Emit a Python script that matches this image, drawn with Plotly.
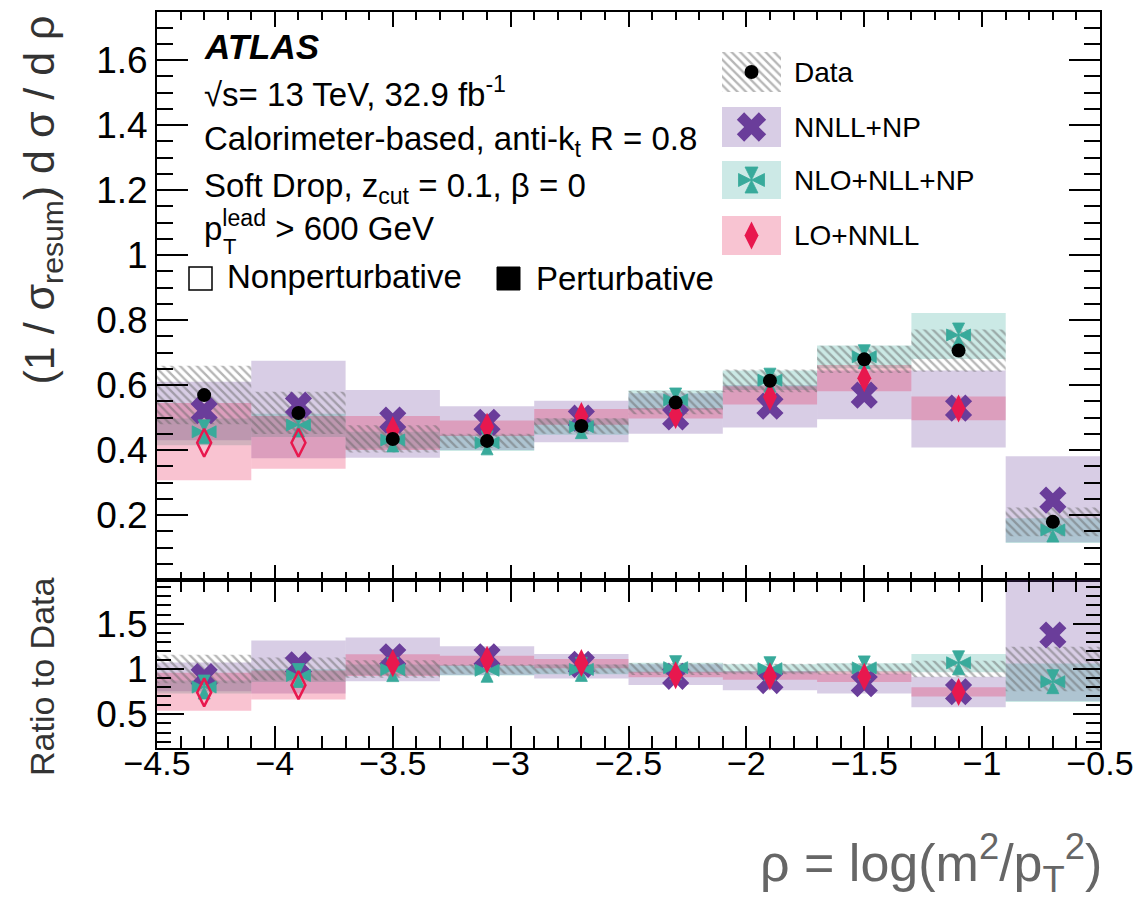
import plotly.graph_objects as go

# ---------------- data ----------------
bin_edges = [-4.5, -4.1, -3.7, -3.3, -2.9, -2.5, -2.1, -1.7, -1.3, -0.9, -0.5]

data_val = [0.569, 0.514, 0.434, 0.428, 0.474, 0.546, 0.613, 0.679, 0.706, 0.179]
data_err = [0.090, 0.065, 0.042, 0.022, 0.024, 0.036, 0.035, 0.042, 0.065, 0.044]

nnll_val = [0.521, 0.538, 0.492, 0.485, 0.498, 0.502, 0.535, 0.569, 0.529, 0.246]
nnll_lo = [0.430, 0.375, 0.376, 0.400, 0.424, 0.450, 0.469, 0.495, 0.408, 0.116]
nnll_hi = [0.610, 0.675, 0.585, 0.535, 0.552, 0.575, 0.600, 0.645, 0.645, 0.381]

nlo_val = [0.456, 0.477, 0.431, 0.422, 0.472, 0.554, 0.615, 0.687, 0.754, 0.154]
nlo_lo = [0.415, 0.440, 0.405, 0.397, 0.447, 0.524, 0.585, 0.652, 0.680, 0.114]
nlo_hi = [0.497, 0.512, 0.456, 0.447, 0.497, 0.584, 0.645, 0.722, 0.822, 0.190]

lonnll_val = [0.4225, 0.4225, 0.462, 0.472, 0.505, 0.508, 0.564, 0.621, 0.528, None]
lonnll_lo = [0.307, 0.342, 0.400, 0.443, 0.478, 0.497, 0.540, 0.581, 0.492, None]
lonnll_hi = [0.545, 0.505, 0.505, 0.491, 0.526, 0.529, 0.596, 0.662, 0.565, None]
lonnll_perturbative = [False, False, True, True, True, True, True, True, True, True]

x_tick_vals = [-4.5, -4.0, -3.5, -3.0, -2.5, -2.0, -1.5, -1.0, -0.5]
y_tick_vals = [0.2, 0.4, 0.6, 0.8, 1.0, 1.2, 1.4, 1.6]
r_tick_vals = [0.5, 1.0, 1.5]

legend_labels = ["Data", "NNLL+NP", "NLO+NLL+NP", "LO+NNLL"]

# ---------------- derived ----------------
centers = [(a + b) / 2 for a, b in zip(bin_edges[:-1], bin_edges[1:])]
widths = [b - a for a, b in zip(bin_edges[:-1], bin_edges[1:])]

# ---------------- geometry / style ----------------
W, H = 1136, 902
L, R, T, B = 157, 1100, 12, 748
SPLIT = 580
PW, PH = R - L, B - T


def px(x):
    return (x - L) / PW


def py(y):
    return (B - y) / PH


split_paper = py(SPLIT)

PURPLE = "rgb(106,61,154)"
TEAL = "rgb(56,170,155)"
RED = "rgb(232,24,78)"
PURPLE_BAND = "rgba(106,61,154,0.26)"
TEAL_BAND = "rgba(56,170,155,0.26)"
RED_BAND = "rgba(232,24,78,0.26)"
HATCH = dict(shape="\\", fgcolor="rgba(100,100,100,0.95)", bgcolor="rgba(0,0,0,0)",
             size=6, solidity=0.38, fillmode="overlay")
FONT = "Liberation Sans, Arial, sans-serif"
# Maltese-cross marker built from four arrow heads meeting at the point
CROSS_SYMBOLS = ["arrow-up", "arrow-down", "arrow-left", "arrow-right"]

fig = go.Figure()


def band(lo, hi, color, xa, ya, scale=None, pattern=None):
    xs, bs, hs, ws = [], [], [], []
    for i, (l, h) in enumerate(zip(lo, hi)):
        if l is None or h is None:
            continue
        s = scale[i] if scale else 1.0
        xs.append(centers[i])
        bs.append(l / s)
        hs.append((h - l) / s)
        ws.append(widths[i])
    marker = dict(color=color, line=dict(width=0))
    if pattern:
        marker["pattern"] = pattern
    fig.add_trace(go.Bar(x=xs, y=hs, base=bs, width=ws, marker=marker,
                         xaxis=xa, yaxis=ya, showlegend=False, hoverinfo="skip"))


def sel(vals, scale=None, mask=None):
    xs, ys = [], []
    for i, v in enumerate(vals):
        if v is None:
            continue
        if mask is not None and not mask[i]:
            continue
        s = scale[i] if scale else 1.0
        xs.append(centers[i])
        ys.append(v / s)
    return xs, ys


def points(vals, xa, ya, scale=None, mask=None, **mk):
    xs, ys = sel(vals, scale, mask)
    fig.add_trace(go.Scatter(x=xs, y=ys, mode="markers", marker=mk, xaxis=xa, yaxis=ya,
                             showlegend=False, hoverinfo="skip", cliponaxis=False))


def crosses(vals, xa, ya, scale=None, size=12):
    for sym in CROSS_SYMBOLS:
        points(vals, xa, ya, scale, symbol=sym, size=size, color=TEAL,
               line=dict(width=0.8, color=TEAL))


data_lo = [v - e for v, e in zip(data_val, data_err)]
data_hi = [v + e for v, e in zip(data_val, data_err)]

for (xa, ya, sc) in [("x", "y", None), ("x2", "y2", data_val)]:
    band(nnll_lo, nnll_hi, PURPLE_BAND, xa, ya, sc)
    band(nlo_lo, nlo_hi, TEAL_BAND, xa, ya, sc)
    band(lonnll_lo, lonnll_hi, RED_BAND, xa, ya, sc)
    band(data_lo, data_hi, "rgba(0,0,0,0)", xa, ya, sc, pattern=HATCH)
    points(nnll_val, xa, ya, sc, symbol="x", size=24, color=PURPLE, line=dict(width=0))
    crosses(nlo_val, xa, ya, sc)
    points(lonnll_val, xa, ya, sc, mask=lonnll_perturbative, symbol="diamond-tall", size=20,
           color=RED, line=dict(width=0))
    points(lonnll_val, xa, ya, sc, mask=[not p for p in lonnll_perturbative],
           symbol="diamond-tall-open", size=20, color=RED, line=dict(width=2.5, color=RED))
    if sc is None:
        points(data_val, xa, ya, sc, symbol="circle", size=14, color="black", line=dict(width=0))

# ---------------- legend (pixel overlay axes) ----------------
leg_x0, leg_x1 = 722, 781
leg_rows = [(52, 92), (107, 147), (161, 199), (216, 255)]
leg_fill = ["rgba(0,0,0,0)", "rgb(216,205,229)", "rgb(204,233,230)", "rgb(248,196,210)"]
for i, (y0, y1) in enumerate(leg_rows):
    mk = dict(color=leg_fill[i], line=dict(width=0))
    if i == 0:
        mk["pattern"] = HATCH
    fig.add_trace(go.Bar(x=[(leg_x0 + leg_x1) / 2], y=[y1 - y0], base=[y0], width=[leg_x1 - leg_x0],
                         marker=mk, xaxis="x3", yaxis="y3", showlegend=False, hoverinfo="skip"))
leg_cx = (leg_x0 + leg_x1) / 2
leg_cy = [(a + b) / 2 for a, b in leg_rows]
leg_markers = [
    [dict(symbol="circle", size=14, color="black", line=dict(width=0))],
    [dict(symbol="x", size=26, color=PURPLE, line=dict(width=0))],
    [dict(symbol=s, size=13, color=TEAL, line=dict(width=0.8, color=TEAL)) for s in CROSS_SYMBOLS],
    [dict(symbol="diamond-tall", size=20, color=RED, line=dict(width=0))],
]
for cy, mks in zip(leg_cy, leg_markers):
    for mk in mks:
        fig.add_trace(go.Scatter(x=[leg_cx], y=[cy], mode="markers", marker=mk, xaxis="x3", yaxis="y3",
                                 showlegend=False, hoverinfo="skip", cliponaxis=False))

annotations = []
for lab, cy in zip(legend_labels, leg_cy):
    annotations.append(dict(x=px(792), y=py(cy), xref="paper", yref="paper", text=lab, showarrow=False,
                            xanchor="left", yanchor="middle", font=dict(size=28, color="black", family=FONT)))

# ---------------- text block ----------------
TX = 202
text_lines = [
    ("<b><i>ATLAS</i></b>", 46, 35),
    ("√s= 13 TeV, 32.9 fb<sup>-1</sup>", 92, 33),
    ("Calorimeter-based, anti-k<sub>t</sub> R = 0.8", 141, 33),
    ("Soft Drop, z<sub>cut</sub> = 0.1, β = 0", 188, 33),
    ("p<sup>lead</sup> > 600 GeV", 226, 33),
]
for txt, cy, fs in text_lines:
    annotations.append(dict(x=px(TX), y=py(cy), xref="paper", yref="paper", text=txt, showarrow=False,
                            xanchor="left", yanchor="middle", font=dict(size=fs, color="black", family=FONT)))
annotations.append(dict(x=px(TX + 19), y=py(247), xref="paper", yref="paper", text="T", showarrow=False,
                        xanchor="left", yanchor="middle", font=dict(size=22, color="black", family=FONT)))
annotations.append(dict(x=px(225), y=py(276), xref="paper", yref="paper", text="Nonperturbative",
                        showarrow=False, xanchor="left", yanchor="middle",
                        font=dict(size=33, color="black", family=FONT)))
annotations.append(dict(x=px(534), y=py(278), xref="paper", yref="paper", text="Perturbative",
                        showarrow=False, xanchor="left", yanchor="middle",
                        font=dict(size=33, color="black", family=FONT)))

shapes = [
    dict(type="rect", xref="paper", yref="paper", x0=px(189), x1=px(212), y0=py(290), y1=py(267),
         line=dict(color="black", width=1.5), fillcolor="rgba(0,0,0,0)"),
    dict(type="rect", xref="paper", yref="paper", x0=px(497), x1=px(520), y0=py(290), y1=py(267),
         line=dict(color="black", width=1), fillcolor="black"),
]

# axis titles
annotations.append(dict(x=px(42), y=py(14), xref="paper", yref="paper",
                        text="(1 / σ<sub>resum</sub>) d σ / d ρ", textangle=-90, showarrow=False,
                        xanchor="center", yanchor="top", font=dict(size=43, color="#333333", family=FONT)))
annotations.append(dict(x=px(42), y=py(677), xref="paper", yref="paper", text="Ratio to Data",
                        textangle=-90, showarrow=False, xanchor="center", yanchor="middle",
                        font=dict(size=34, color="#333333", family=FONT)))
annotations.append(dict(x=px(1104), y=py(863), xref="paper", yref="paper",
                        text="ρ = log(m<sup>2</sup>/p<sub>T</sub><sup>2</sup>)", showarrow=False,
                        xanchor="right", yanchor="middle", font=dict(size=52, color="#666666", family=FONT)))

common_x = dict(range=[bin_edges[0], bin_edges[-1]], tickvals=x_tick_vals, ticks="inside",
                tickwidth=2, tickcolor="black", showline=True, linecolor="black", linewidth=2,
                mirror="allticks", showgrid=False, zeroline=False, fixedrange=True, automargin=False,
                ticklabeloverflow="allow")
common_y = dict(ticks="inside", tickwidth=2, tickcolor="black", showline=True, linecolor="black",
                linewidth=2, mirror="allticks", showgrid=False, zeroline=False, fixedrange=True,
                automargin=False, tickfont=dict(size=37, color="black", family=FONT))

fig.update_layout(
    width=W, height=H,
    margin=dict(l=L, r=W - R, t=T, b=H - B, pad=0, autoexpand=False),
    paper_bgcolor="white", plot_bgcolor="rgba(0,0,0,0)",
    barmode="overlay", showlegend=False,
    xaxis=dict(domain=[0, 1], anchor="y", showticklabels=False, ticklen=15,
               minor=dict(dtick=0.1, tick0=-4.5, ticklen=8, tickwidth=2, tickcolor="black", ticks="inside"),
               **common_x),
    xaxis2=dict(domain=[0, 1], anchor="y2", showticklabels=True, ticklen=22, ticklabelstandoff=-16,
                tickfont=dict(size=34, color="black", family=FONT),
                minor=dict(dtick=0.1, tick0=-4.5, ticklen=12, tickwidth=2, tickcolor="black", ticks="inside"),
                **common_x),
    yaxis=dict(domain=[split_paper, 1], anchor="x", range=[0, 1.748], tickvals=y_tick_vals, ticklen=31,
               minor=dict(dtick=0.05, tick0=0, ticklen=16, tickwidth=2, tickcolor="black", ticks="inside"),
               **common_y),
    yaxis2=dict(domain=[0, split_paper], anchor="x2", range=[0.13, 1.98], tickvals=r_tick_vals, ticklen=27,
                minor=dict(dtick=0.1, tick0=0, ticklen=14, tickwidth=2, tickcolor="black", ticks="inside"),
                **common_y),
    xaxis3=dict(domain=[0, 1], anchor="y3", range=[L, R], visible=False, fixedrange=True),
    yaxis3=dict(domain=[0, 1], anchor="x3", range=[B, T], visible=False, fixedrange=True),
    annotations=annotations,
    shapes=shapes,
)

fig.write_html(
    "out.html",
    config={"displayModeBar": False, "staticPlot": True},
    post_script=("document.body.style.margin='0px';"
                 "document.body.style.overflow='hidden';"
                 "document.documentElement.style.overflow='hidden';"),
)
